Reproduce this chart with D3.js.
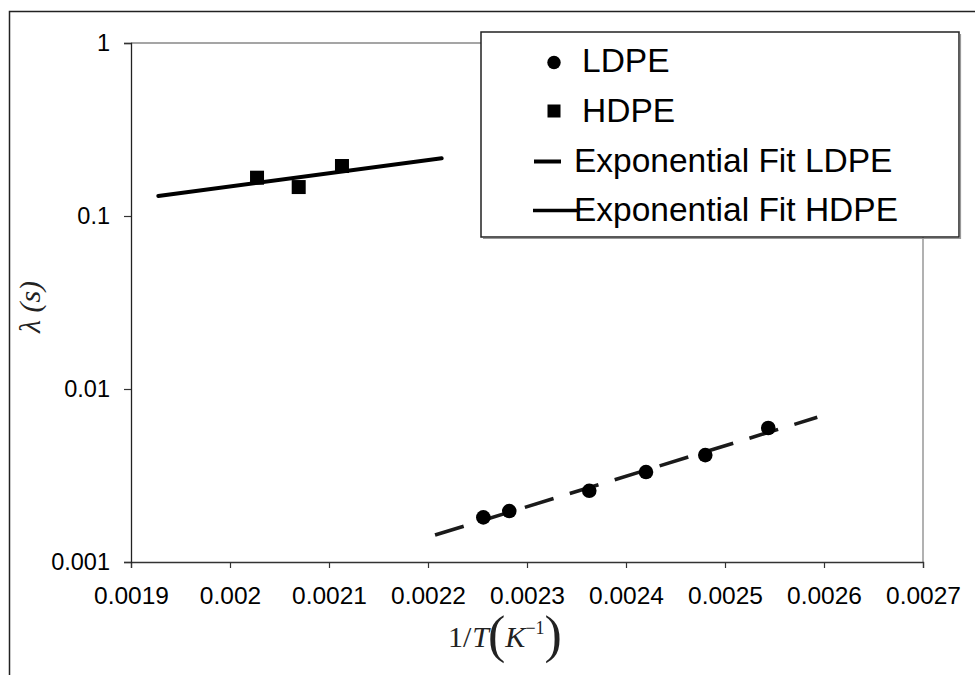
<!DOCTYPE html>
<html>
<head>
<meta charset="utf-8">
<script src="https://cdn.jsdelivr.net/npm/d3@7"></script>
<style>
  html, body { margin: 0; padding: 0; background: #fff; }
  svg { display: block; }
</style>
</head>
<body>
<svg id="chart" width="975" height="675"></svg>
<script>
// Relaxation time vs inverse temperature
const ldpeX = [0.0022559, 0.0022821, 0.0023629, 0.0024202, 0.0024801, 0.0025437];
const ldpeY = [0.00181, 0.00197, 0.00258, 0.00331, 0.00415, 0.00595];
const hdpeX = [0.0020273, 0.0020694, 0.0021131];
const hdpeY = [0.1665, 0.147, 0.1945];

// Exponential fits (straight lines on the log axis), start and end points
const fitLdpeX = [0.0022071, 0.0025932];
const fitLdpeY = [0.001432, 0.006862];
const fitHdpeX = [0.0019276, 0.0022138];
const fitHdpeY = [0.1305, 0.2156];

const xTicks = [0.0019, 0.002, 0.0021, 0.0022, 0.0023, 0.0024, 0.0025, 0.0026, 0.0027];
const xTickLabels = ["0.0019", "0.002", "0.0021", "0.0022", "0.0023", "0.0024", "0.0025", "0.0026", "0.0027"];
const yTicks = [0.001, 0.01, 0.1, 1];
const yTickLabels = ["0.001", "0.01", "0.1", "1"];

const legendItems = ["LDPE", "HDPE", "Exponential Fit LDPE", "Exponential Fit HDPE"];

const svg = d3.select("#chart");
const plotL = 131, plotR = 923, plotT = 43, plotB = 562;

const x = d3.scaleLinear().domain([0.0019, 0.0027]).range([plotL, plotR]);
const y = d3.scaleLog().domain([0.001, 1]).range([plotB, plotT]);

const tickFont = "'Liberation Sans', Arial, sans-serif";

// outer frame
svg.append("rect")
  .attr("x", 9.5).attr("y", 11.5).attr("width", 1000).attr("height", 700)
  .attr("fill", "#fff").attr("stroke", "#222").attr("stroke-width", 1.5);

// plot area frame (top and right)
svg.append("path")
  .attr("d", `M${plotL},${plotT}H${plotR}V${plotB}`)
  .attr("fill", "none").attr("stroke", "#888").attr("stroke-width", 1.3);

// x axis
const xAxis = svg.append("g")
  .attr("transform", `translate(0,${plotB})`)
  .call(d3.axisBottom(x).tickValues(xTicks).tickSize(6).tickPadding(19)
    .tickFormat((d, i) => xTickLabels[i]));
xAxis.select(".domain").attr("stroke", "#333").attr("stroke-width", 1.3);
xAxis.selectAll(".tick line").attr("stroke", "#333").attr("stroke-width", 1.2);
xAxis.selectAll("text").attr("font-family", tickFont).attr("font-size", 24.5).attr("fill", "#000");

// y axis
const yAxis = svg.append("g")
  .attr("transform", `translate(${plotL},0)`)
  .call(d3.axisLeft(y).tickValues(yTicks).tickSize(7).tickPadding(14)
    .tickFormat((d, i) => yTickLabels[i]));
yAxis.select(".domain").attr("stroke", "#222").attr("stroke-width", 1.3);
yAxis.selectAll(".tick line").attr("stroke", "#333").attr("stroke-width", 1.2);
yAxis.selectAll("text").attr("font-family", tickFont).attr("font-size", 23.5).attr("fill", "#000");

const line = d3.line().x(d => x(d[0])).y(d => y(d[1]));

// HDPE fit
svg.append("path")
  .datum(d3.zip(fitHdpeX, fitHdpeY))
  .attr("d", line)
  .attr("fill", "none").attr("stroke", "#000").attr("stroke-width", 4)
  .attr("stroke-linecap", "round");

// LDPE fit (dashed)
svg.append("path")
  .datum(d3.zip(fitLdpeX, fitLdpeY))
  .attr("d", line)
  .attr("fill", "none").attr("stroke", "#1a1a1a").attr("stroke-width", 3.6)
  .attr("stroke-dasharray", "30,17");

// LDPE points
svg.append("g").selectAll("circle")
  .data(d3.zip(ldpeX, ldpeY))
  .join("circle")
  .attr("cx", d => x(d[0])).attr("cy", d => y(d[1])).attr("r", 7.3)
  .attr("fill", "#000");

// HDPE points
svg.append("g").selectAll("rect")
  .data(d3.zip(hdpeX, hdpeY))
  .join("rect")
  .attr("x", d => x(d[0]) - 7).attr("y", d => y(d[1]) - 7)
  .attr("width", 14).attr("height", 14)
  .attr("fill", "#000");

// legend
const lg = svg.append("g");
lg.append("rect")
  .attr("x", 481).attr("y", 32).attr("width", 478).attr("height", 205)
  .attr("fill", "#fff").attr("stroke", "#222").attr("stroke-width", 1.5);
lg.append("path")
  .attr("d", "M959.5,33V237.5H482")
  .attr("fill", "none").attr("stroke", "#999").attr("stroke-width", 1.2)
  .attr("transform", "translate(1,1)");

const rowY = [72, 122, 172, 221];
const textX = [582, 582, 574, 574];
lg.selectAll("text")
  .data(legendItems)
  .join("text")
  .attr("x", (d, i) => textX[i]).attr("y", (d, i) => rowY[i])
  .attr("font-family", tickFont).attr("font-size", 33.5).attr("fill", "#000")
  .text(d => d);
lg.append("circle").attr("cx", 554).attr("cy", 62.5).attr("r", 6.7).attr("fill", "#000");
lg.append("rect").attr("x", 547.5).attr("y", 104.5).attr("width", 13).attr("height", 13).attr("fill", "#000");
lg.append("line").attr("x1", 534).attr("x2", 561).attr("y1", 161.5).attr("y2", 161.5)
  .attr("stroke", "#000").attr("stroke-width", 4);
lg.append("line").attr("x1", 533).attr("x2", 577).attr("y1", 210.5).attr("y2", 210.5)
  .attr("stroke", "#000").attr("stroke-width", 3.5);

// axis titles
const serif = "'Liberation Serif', 'Times New Roman', serif";
const xt = svg.append("text")
  .attr("x", 448).attr("y", 647)
  .attr("font-family", serif).attr("font-size", 30).attr("fill", "#222");
xt.append("tspan").text("1/");
xt.append("tspan").attr("font-style", "italic").attr("dx", 1).text("T");
xt.append("tspan").attr("font-size", 52).attr("dy", 5).attr("dx", -1).text("(");
xt.append("tspan").attr("font-style", "italic").attr("dy", -5).text("K");
xt.append("tspan").attr("font-size", 18).attr("dy", -13).text("\u22121");
xt.append("tspan").attr("font-size", 52).attr("dy", 18).text(")");

svg.append("text")
  .attr("transform", "translate(40,307) rotate(-90)")
  .attr("text-anchor", "middle")
  .attr("font-family", serif).attr("font-style", "italic").attr("font-size", 30)
  .attr("fill", "#222")
  .text("\u03bb (s)");
</script>
</body>
</html>
